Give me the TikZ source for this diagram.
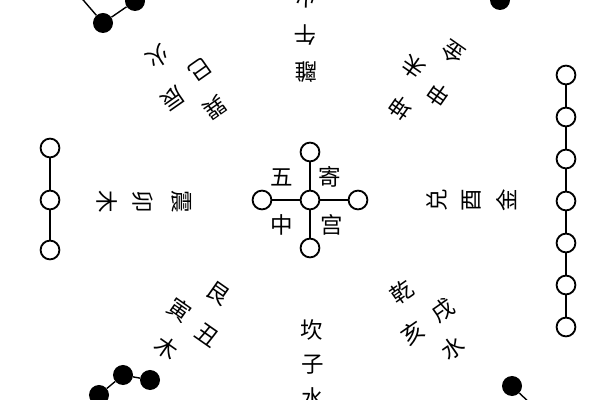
\documentclass[tikz,border=0pt]{standalone}
\usepackage{fontspec}
\newfontfamily\cjk{Noto Sans CJK SC}

\begin{document}
\begin{tikzpicture}[x=0.025cm, y=-0.025cm,
	wdot/.style={circle, draw, line width=1.3pt, fill=white, minimum size=0.47cm, inner sep=0pt},
	bdot/.style={circle, fill=black, minimum size=0.5cm, inner sep=0pt},
	glyph/.style={font=\cjk\fontsize{16}{16}\selectfont, inner sep=0pt},
	link/.style={line width=1pt}]
			\useasboundingbox (0,0) rectangle (600,400);
			\clip (0,0) rectangle (600,400);
			\foreach \i/\y in {1/148,2/200,3/250} \node[wdot] (e\i) at (50,\y) {};
			\draw[link] (e1) -- (e2) -- (e3);
			\foreach \i in {1,...,7} \node[wdot] (w\i) at (566,{33+42*\i}) {};
			\foreach \i/\j in {1/2,2/3,3/4,4/5,5/6,6/7} \draw[link] (w\i) -- (w\j);
			\node[wdot] (c0) at (310,200) {};
			\node[wdot] (c1) at (310,152) {};
			\node[wdot] (c2) at (358,200) {};
			\node[wdot] (c3) at (310,248) {};
			\node[wdot] (c4) at (262,200) {};
			\foreach \i in {1,...,4} \draw[link] (c0) -- (c\i);
			\node[bdot] (se1) at (103,23) {};
			\node[bdot] (se2) at (135,1) {};
			\coordinate (se0) at (78,-6);
			\draw[link] (se0) -- (se1) -- (se2);
			\node[bdot] (sw1) at (500,0) {};
			\node[bdot] (nw1) at (512,386) {};
			\coordinate (nw0) at (535,408);
			\draw[link] (nw1) -- (nw0);
			\node[bdot] (ne1) at (123,375) {};
			\node[bdot] (ne2) at (150,380) {};
			\node[bdot] (ne3) at (99,395) {};
			\draw[link] (ne3) -- (ne1) -- (ne2);
			\node[glyph] (tc1) at (282,177) {五};
			\node[glyph] (tc2) at (330,177) {寄};
			\node[glyph] (tc3) at (282,225) {中};
			\node[glyph] (tc4) at (332,225) {宫};
			\node[glyph, rotate=180] (ts1) at (306,72) {離};
			\node[glyph, rotate=180] (ts2) at (305,35) {午};
			\node[glyph, rotate=180] (ts3) at (306,-2) {火};
			\node[glyph] (tn1) at (312,330) {坎};
			\node[glyph] (tn2) at (313,365) {子};
			\node[glyph] (tn3) at (313,398) {水};
			\node[glyph, rotate=-90] (te1) at (182,202) {震};
			\node[glyph, rotate=-90] (te2) at (143,202) {卯};
			\node[glyph, rotate=-90] (te3) at (107,202) {木};
			\node[glyph, rotate=90] (tw1) at (437,200) {兑};
			\node[glyph, rotate=90] (tw2) at (472,200) {酉};
			\node[glyph, rotate=90] (tw3) at (507,200) {金};
			\node[glyph, rotate=-145] (tse1) at (215,108) {巽};
			\node[glyph, rotate=-145] (tse2) at (173,98) {辰};
			\node[glyph, rotate=-145] (tse3) at (200,70) {巳};
			\node[glyph, rotate=-145] (tse4) at (158,57) {火};
			\node[glyph, rotate=145] (tsw1) at (400,108) {坤};
			\node[glyph, rotate=145] (tsw2) at (413,67) {未};
			\node[glyph, rotate=145] (tsw3) at (438,95) {申};
			\node[glyph, rotate=145] (tsw4) at (453,52) {金};
			\node[glyph, rotate=-35] (tne1) at (218,293) {艮};
			\node[glyph, rotate=-35] (tne2) at (207,335) {丑};
			\node[glyph, rotate=-35] (tne3) at (180,310) {寅};
			\node[glyph, rotate=-35] (tne4) at (167,348) {木};
			\node[glyph, rotate=35] (tnw1) at (402,292) {乾};
			\node[glyph, rotate=35] (tnw2) at (413,333) {亥};
			\node[glyph, rotate=35] (tnw3) at (443,310) {戌};
			\node[glyph, rotate=35] (tnw4) at (453,348) {水};
	\end{tikzpicture}
\end{document}
